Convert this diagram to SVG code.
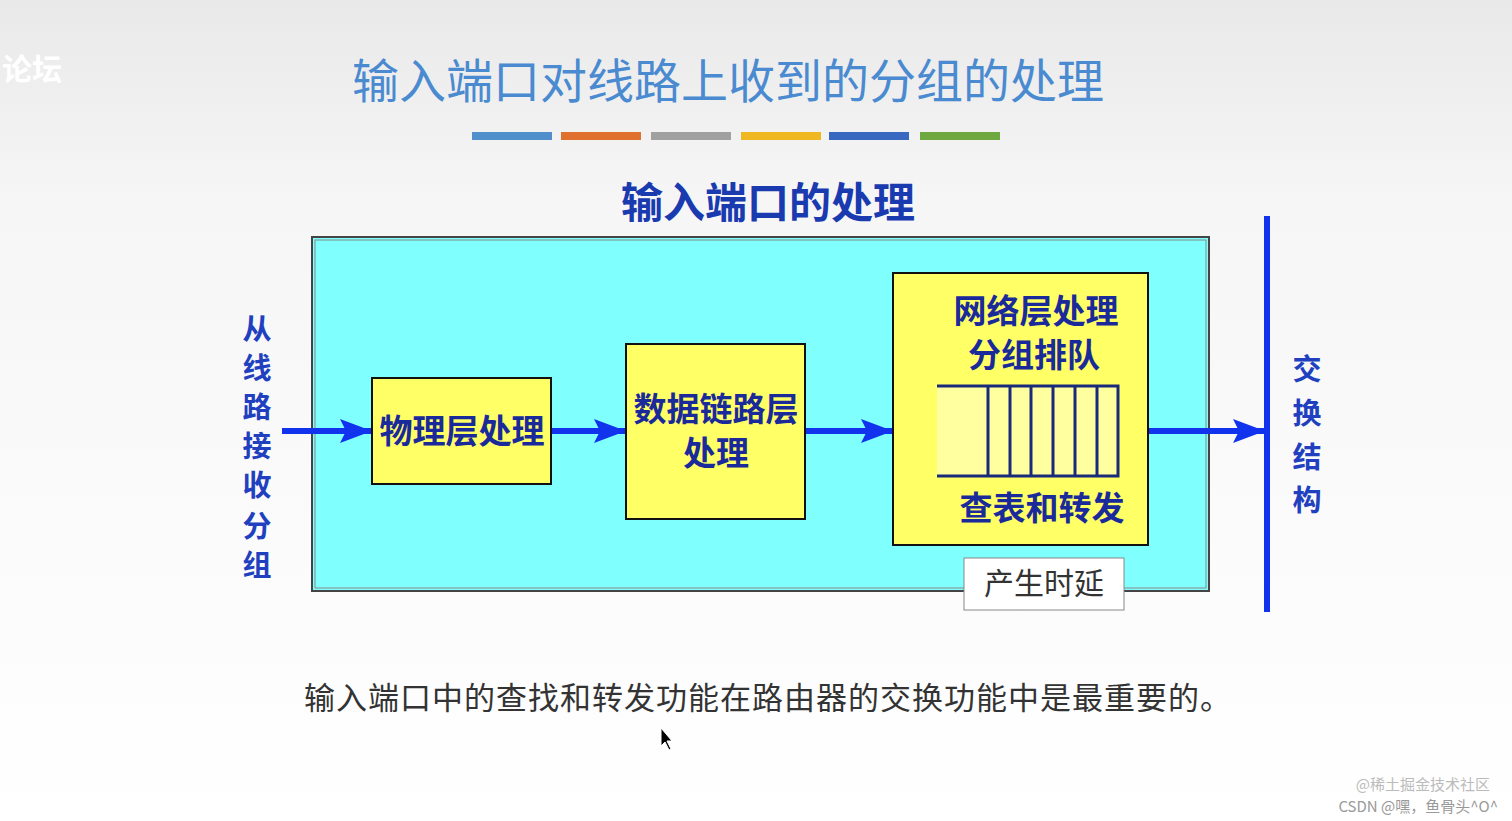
<svg xmlns="http://www.w3.org/2000/svg" width="1512" height="821" viewBox="0 0 1512 821">
<defs>
<linearGradient id="bg" x1="0" y1="0" x2="0" y2="1"><stop offset="0" stop-color="#e9e9e9"/><stop offset="0.25" stop-color="#f6f6f6"/><stop offset="1" stop-color="#ffffff"/></linearGradient>
<marker id="ah" markerWidth="32" markerHeight="24" refX="32" refY="12" orient="auto" markerUnits="userSpaceOnUse" viewBox="0 0 32 24"><path d="M0,0 L32,12 L0,24 L6,12 Z" fill="#1133ee"/></marker>
<style>
.cjk{font-family:"Noto Sans CJK SC","Noto Sans",sans-serif}
.box{fill:#ffff66;stroke:#111;stroke-width:2}
.bt{font-weight:bold;fill:#1a2a9a;font-size:33px;text-anchor:middle}
.side{font-weight:bold;fill:#2040c0;font-size:29px;text-anchor:middle}
.conn{stroke:#1133ee;stroke-width:6;fill:none}
.q{stroke:#1a2a7a;stroke-width:3;fill:none}
</style>
</defs>
<rect width="1512" height="821" fill="url(#bg)"/>
<text x="2" y="80" class="cjk" font-size="30" fill="#fff" font-weight="bold">论坛</text>
<text x="728" y="98" class="cjk" font-size="47" fill="#4a8ad0" text-anchor="middle">输入端口对线路上收到的分组的处理</text>
<g>
<rect x="472" y="132" width="80" height="8" fill="#4f90cc"/>
<rect x="561" y="132" width="80" height="8" fill="#e0702e"/>
<rect x="651" y="132" width="80" height="8" fill="#a0a0a0"/>
<rect x="741" y="132" width="80" height="8" fill="#f0b820"/>
<rect x="829" y="132" width="80" height="8" fill="#3868c0"/>
<rect x="920" y="132" width="80" height="8" fill="#70a840"/>
</g>
<text x="768" y="218" class="cjk" font-size="42" font-weight="bold" fill="#1a3ab0" text-anchor="middle">输入端口的处理</text>
<rect x="312" y="237" width="897" height="354" fill="#80ffff" stroke="#444" stroke-width="2"/>
<rect x="315" y="240" width="891" height="348" fill="none" stroke="#888" stroke-width="1"/>
<g id="edges">
<line class="conn" x1="282" y1="431" x2="372" y2="431" marker-end="url(#ah)"/>
<line class="conn" x1="551" y1="431" x2="626" y2="431" marker-end="url(#ah)"/>
<line class="conn" x1="806" y1="431" x2="893" y2="431" marker-end="url(#ah)"/>
<line class="conn" x1="1149" y1="431" x2="1265" y2="431" marker-end="url(#ah)"/>
</g>
<g id="phy"><rect class="box" x="372" y="378" width="179" height="106"/><text class="cjk bt" x="462" y="443">物理层处理</text></g>
<g id="dll"><rect class="box" x="626" y="344" width="179" height="175"/><text class="cjk bt" x="716" y="421">数据链路层</text><text class="cjk bt" x="716" y="465">处理</text></g>
<g id="net"><rect class="box" x="893" y="273" width="255" height="272"/>
<text class="cjk bt" x="1036" y="323">网络层处理</text><text class="cjk bt" x="1034" y="367">分组排队</text>
<rect x="937" y="386" width="181" height="90" fill="#ffffa0"/>
<path class="q" d="M937,386 H1118 V476 H937 M988,386 V476 M1010,386 V476 M1031,386 V476 M1053,386 V476 M1075,386 V476 M1097,386 V476"/>
<text class="cjk bt" x="1042" y="520">查表和转发</text></g>
<g id="delay"><rect x="964" y="558" width="160" height="52" fill="#fff" stroke="#888"/><text class="cjk" x="1044" y="594" font-size="30" fill="#333" text-anchor="middle">产生时延</text></g>
<line x1="1267" y1="216" x2="1267" y2="612" stroke="#1133ee" stroke-width="6"/>
<g id="left"><text class="cjk side" x="257" y="340">从</text><text class="cjk side" x="257" y="379">线</text><text class="cjk side" x="257" y="418">路</text><text class="cjk side" x="257" y="457">接</text><text class="cjk side" x="257" y="496">收</text><text class="cjk side" x="257" y="537">分</text><text class="cjk side" x="257" y="576">组</text></g>
<g id="right"><text class="cjk side" x="1307" y="380">交</text><text class="cjk side" x="1307" y="424">换</text><text class="cjk side" x="1307" y="468">结</text><text class="cjk side" x="1307" y="511">构</text></g>
<text x="768" y="709" class="cjk" font-size="31" fill="#333" text-anchor="middle" letter-spacing="1">输入端口中的查找和转发功能在路由器的交换功能中是最重要的。</text>
<path d="M661,728 L661,746 L665,742 L669,750 L671,749 L667,741 L672,741 Z" fill="#000" stroke="#fff" stroke-width="1"/>
<text x="1490" y="790" class="cjk" font-size="15" fill="#bbb" text-anchor="end">@稀土掘金技术社区</text>
<text x="1498" y="812" class="cjk" font-size="15" fill="#999" text-anchor="end">CSDN @嘿，鱼骨头^O^</text>
</svg>
